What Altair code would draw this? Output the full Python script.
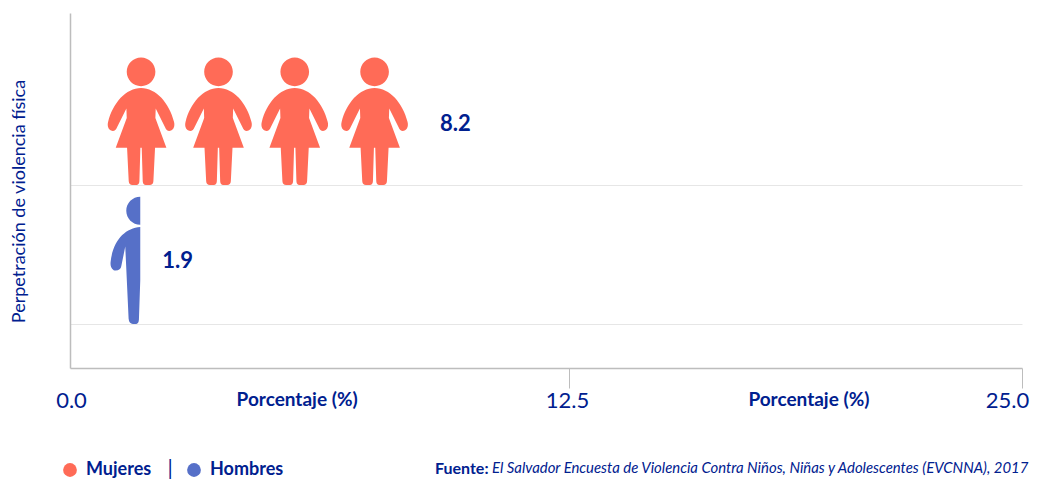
import altair as alt
import pandas as pd

FONT = "Lato"
NAVY = "#00208f"
groups = ["Mujeres", "Hombres"]
colors = ["#ff6b57", "#5670c8"]
values = [8.2, 1.9]
rows = [1.458, 0.458]
label_rows = [1.44, 0.45]
figure_x = [1.78, 3.72, 5.63, 7.63]
man_x = [1.76]
label_x = [9.27, 2.31]
grid_rows = [0, 1]
ticks = [0, 12.5, 25]
axis_label_x = [5.69, 19.12]
axis_label = "Porcentaje (%)"
y_title = "Perpetración de violencia física"
source_bold = "Fuente:"
source_text = "El Salvador Encuesta de Violencia Contra Niños, Niñas y Adolescentes (EVCNNA), 2017"

WOMAN = ("M-43,-148.5 A43,43 0 1 1 43,-148.5 A43,43 0 1 1 -43,-148.5 Z "
         "M0,-100 C45,-100 85,-55 99,2 C102,14 98,24 90,28 C82,31 75,27 72,18 L44,-38 L43,-10 L76,79.5 L42,79.5 "
         "L37,180 Q36,191.5 26,191.5 L14,191.5 Q6,191.5 5,180 L2,79.5 L-2,79.5 L-5,180 Q-6,191.5 -14,191.5 "
         "L-26,191.5 Q-36,191.5 -37,180 L-42,79.5 L-76,79.5 L-43,-10 L-44,-38 L-72,18 C-75,27 -82,31 -90,28 "
         "C-98,24 -102,14 -99,2 C-85,-55 -45,-100 0,-100 Z")
MAN = ("M0,-191 A42,42 0 0 0 0,-107 Z "
       "M0,-100 C-45,-97 -82,-60 -89,5 C-91,22 -82,31 -74,31 C-64,31 -58,25 -57,18 L-45,-41 L-35,175 "
       "Q-34,191 -22,191 L-12,191 Q-5,191 -4,178 L0,60 Z")
SCALE_SIZE = 0.444

x_scale = alt.Scale(domain=[0, 12.5, 25], range=[0, 499, 952])
y_scale = alt.Scale(domain=[-0.317, 2.237], nice=False, zero=False)
color_scale = alt.Scale(domain=groups, range=colors)

women = pd.DataFrame({"x": figure_x, "y": [rows[0]] * 4, "g": [groups[0]] * 4})
men = pd.DataFrame({"x": man_x, "y": [rows[1]], "g": [groups[1]]})
labels = pd.DataFrame({"x": label_x, "y": label_rows, "t": [f"{v:.1f}" for v in values]})
axis_labels = pd.DataFrame({"x": axis_label_x, "t": [axis_label] * 2})

x_enc = alt.X("x:Q", scale=x_scale, axis=alt.Axis(
    values=ticks, format=".1f", title=None, grid=False, domainColor="#bdbdbd", domainWidth=1.5,
    tickColor="#bdbdbd", tickSize=20, tickOpacity=alt.expr("datum.value == 0 ? 0 : 1"),
    labelFont=FONT, labelFontSize=22, labelColor=NAVY, labelPadding=2, labelFlush=False,
    labelOverlap=False, labelOffset=alt.expr("datum.value == 25 ? -15 : datum.value == 12.5 ? -2 : 1")))
y_enc = alt.Y("y:Q", scale=y_scale, axis=alt.Axis(
    values=grid_rows, title=y_title, grid=True, gridColor="#e6e6e6", labels=False, ticks=False,
    domainColor="#bdbdbd", domainWidth=1.5, titleFont=FONT, titleFontSize=18, titleFontWeight="normal",
    titleColor=NAVY, titleX=-42, titleY=188))

legend = alt.Legend(title=None, orient="none", legendX=-9, legendY=448, direction="horizontal",
                    symbolType="circle", symbolSize=190, symbolStrokeWidth=0, labelFont=FONT, labelFontSize=18,
                    labelFontWeight="bold", labelColor=NAVY, labelOffset=7, columnPadding=33, padding=0)
color_enc = alt.Color("g:N", scale=color_scale, legend=legend)

women_layer = alt.Chart(women).mark_point(shape=WOMAN, filled=True, opacity=1, size=SCALE_SIZE).encode(
    x=x_enc, y=y_enc, color=color_enc)
men_layer = alt.Chart(men).mark_point(shape=MAN, filled=True, opacity=1, size=SCALE_SIZE).encode(
    x=alt.X("x:Q", scale=x_scale), y=alt.Y("y:Q", scale=y_scale), color=color_enc)
value_layer = alt.Chart(labels).mark_text(font=FONT, fontSize=22, fontWeight="bold", color=NAVY, align="left",
                                          baseline="middle").encode(
    x=alt.X("x:Q", scale=x_scale), y=alt.Y("y:Q", scale=y_scale), text="t:N")
axis_label_layer = alt.Chart(axis_labels).mark_text(font=FONT, fontSize=19, fontWeight="bold", color=NAVY,
                                                    baseline="middle").encode(
    x=alt.X("x:Q", scale=x_scale), y=alt.value(386.5), text="t:N")
sep = alt.Chart(pd.DataFrame({"t": ["|"]})).mark_text(font=FONT, fontSize=21, color=NAVY, baseline="middle").encode(
    x=alt.value(100), y=alt.value(456), text="t:N")
src1 = alt.Chart(pd.DataFrame({"t": [source_bold]})).mark_text(font=FONT, fontSize=16, fontWeight="bold", color=NAVY,
                                                               align="left", baseline="middle").encode(
    x=alt.value(365), y=alt.value(456), text="t:N")
src2 = alt.Chart(pd.DataFrame({"t": [source_text]})).mark_text(font=FONT, fontSize=14.9, fontStyle="italic", color=NAVY,
                                                               align="left", baseline="middle").encode(
    x=alt.value(422), y=alt.value(456), text="t:N")

chart = alt.layer(women_layer, men_layer, value_layer, axis_label_layer, sep, src1, src2).properties(
    width=952, height=355,
    autosize=alt.AutoSizeParams(type="none"),
    padding={"left": 62, "top": 5, "right": 8, "bottom": 111},
).configure_view(stroke=None)

chart.save("out.html", embed_options={"renderer": "svg", "actions": False})
